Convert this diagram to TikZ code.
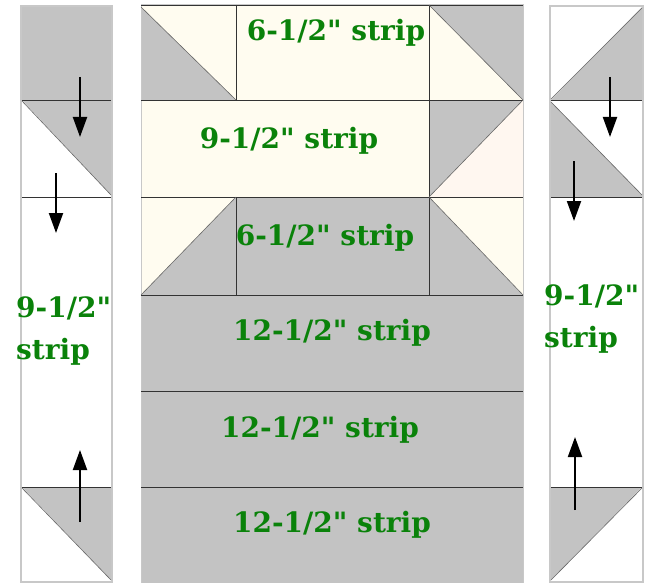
\documentclass[tikz,border=0pt]{standalone}
\usepackage{fontspec}
\setmainfont{DejaVu Serif}
\usepackage{xcolor}
\usetikzlibrary{arrows.meta}

\definecolor{patchgray}{HTML}{C3C3C3}
\definecolor{patchcream}{HTML}{FFFCF0}
\definecolor{patchblush}{HTML}{FFF7F0}
\definecolor{labelgreen}{HTML}{0A820A}
\definecolor{seamdark}{HTML}{333333}
\definecolor{diaggray}{HTML}{666666}
\definecolor{edgegray}{HTML}{C8C8C8}

\newcommand{\inchmark}{\textquotedbl}

\begin{document}
\begin{tikzpicture}[
        x=1pt, y=-1pt,
        strip_label/.style={font=\bfseries\fontsize{28}{42}\selectfont, text=labelgreen, inner sep=0pt},
        gray_patch/.style={fill=patchgray},
        cream_patch/.style={fill=patchcream},
        seam/.style={draw=seamdark, line width=0.8pt},
        diag/.style={draw=diaggray, line width=0.6pt},
        edge_line/.style={draw=edgegray, line width=2pt},
        press_arrow/.style={-{Triangle[length=20pt,width=14pt]}, line width=2pt}
    ]
    \useasboundingbox (0,0) rectangle (653,583);

    % left side strip
    \filldraw[edge_line, fill=white] (21,6) rectangle (112,582);
    \fill[gray_patch] (22,7) rectangle (111,100);
    \fill[gray_patch] (22,100) -- (111,100) -- (111,195) -- cycle;
    \fill[gray_patch] (22,487) -- (111,487) -- (111,580) -- cycle;
    \draw[seam] (22,100) -- (111,100);
    \draw[seam] (22,197) -- (111,197);
    \draw[seam] (22,487) -- (111,487);
    \draw[diag] (22,101) -- (111,195);
    \draw[diag] (22,488) -- (111,580);

    % right side strip
    \filldraw[edge_line, fill=white] (550,6) rectangle (643,582);
    \fill[gray_patch] (551,100) -- (642,7) -- (642,100) -- cycle;
    \fill[gray_patch] (551,102) -- (642,195) -- (642,197) -- (551,197) -- cycle;
    \fill[gray_patch] (551,487) -- (642,487) -- (551,580) -- cycle;
    \draw[seam] (551,100) -- (642,100);
    \draw[seam] (551,197) -- (642,197);
    \draw[seam] (551,487) -- (642,487);
    \draw[diag] (551,99) -- (642,8);
    \draw[diag] (551,102) -- (642,195);
    \draw[diag] (551,580) -- (642,488);

    % centre block
    \fill[gray_patch] (141,5) rectangle (523,583);
    \fill[cream_patch] (141,5) rectangle (523,100);
    \fill[gray_patch] (141,7) -- (236,100) -- (141,100) -- cycle;
    \fill[gray_patch] (429,5) -- (523,5) -- (523,100) -- cycle;
    \fill[cream_patch] (141,100) rectangle (429,197);
    \fill[fill=patchblush] (523,100) -- (523,197) -- (429,197) -- cycle;
    \fill[cream_patch] (141,197) -- (236,197) -- (141,295) -- cycle;
    \fill[cream_patch] (429,197) -- (523,197) -- (523,295) -- cycle;
    \draw[draw=edgegray, line width=1pt] (141,5) rectangle (523,583);
    \draw[seam] (141,5) -- (523,5);
    \foreach \y in {100,197,295,391,487}
        \draw[seam] (141,\y) -- (523,\y);
    \draw[seam] (236,5) -- (236,100);
    \draw[seam] (236,197) -- (236,295);
    \draw[seam] (429,5) -- (429,295);
    \draw[diag] (141,7) -- (236,100);
    \draw[diag] (429,5) -- (523,100);
    \draw[diag] (429,197) -- (523,100);
    \draw[diag] (236,197) -- (141,295);
    \draw[diag] (429,197) -- (523,295);

    % strip labels
    \node[strip_label] (top_strip) at (336,33) {6-1/2\inchmark{} strip};
    \node[strip_label] (mid_strip) at (289,141) {9-1/2\inchmark{} strip};
    \node[strip_label] (low_strip) at (325,238) {6-1/2\inchmark{} strip};
    \node[strip_label] (wide_a) at (332,333) {12-1/2\inchmark{} strip};
    \node[strip_label] (wide_b) at (320,430) {12-1/2\inchmark{} strip};
    \node[strip_label] (wide_c) at (332,525) {12-1/2\inchmark{} strip};
    \node[strip_label, align=left, anchor=west] (left_strip) at (16,331) {9-1/2\inchmark\\strip};
    \node[strip_label, align=left, anchor=west] (right_strip) at (544,319) {9-1/2\inchmark\\strip};

    % pressing arrows
    \coordinate (la1) at (80,77);   \coordinate (lb1) at (80,137);
    \coordinate (la2) at (56,173);  \coordinate (lb2) at (56,233);
    \coordinate (la3) at (80,522);  \coordinate (lb3) at (80,450);
    \coordinate (ra1) at (610,77);  \coordinate (rb1) at (610,137);
    \coordinate (ra2) at (574,161); \coordinate (rb2) at (574,221);
    \coordinate (ra3) at (575,510); \coordinate (rb3) at (575,437);
    \foreach \i in {1,2,3} {
        \draw[press_arrow] (la\i) -- (lb\i);
        \draw[press_arrow] (ra\i) -- (rb\i);
    }
\end{tikzpicture}
\end{document}
